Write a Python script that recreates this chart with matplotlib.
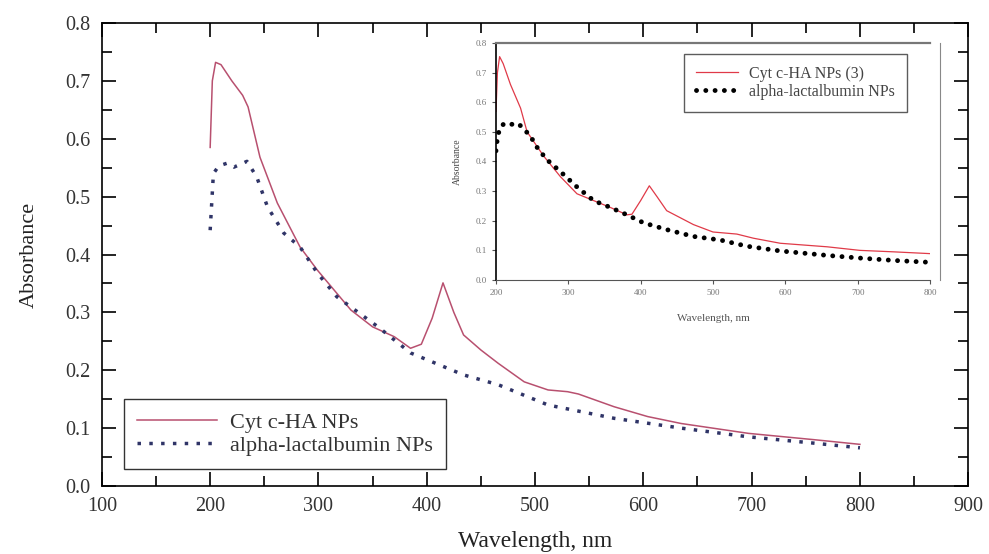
import matplotlib.pyplot as plt
import matplotlib as mpl
from matplotlib.ticker import MultipleLocator

mpl.rcParams['font.family'] = 'Liberation Serif'

# main panel data
cyt_x = [200, 202, 205, 210, 220, 230, 235, 246, 262, 283, 299, 330, 350, 370, 385, 395,
         405, 415, 425, 434, 450, 466, 490, 512, 530, 540, 573, 604, 635, 697, 758, 800]
cyt_y = [0.585, 0.70, 0.732, 0.728, 0.70, 0.675, 0.655, 0.568, 0.489, 0.413, 0.373, 0.304,
         0.275, 0.258, 0.238, 0.245, 0.29, 0.351, 0.30, 0.261, 0.235, 0.212, 0.18, 0.166,
         0.163, 0.159, 0.137, 0.12, 0.108, 0.091, 0.080, 0.072]
alac_x = [200, 203, 208, 216, 222, 234, 243, 253, 268, 283, 299, 317, 355, 385, 434, 466,
          512, 573, 635, 697, 758, 800]
alac_y = [0.442, 0.54, 0.553, 0.558, 0.551, 0.561, 0.534, 0.482, 0.437, 0.413, 0.368, 0.327,
          0.275, 0.23, 0.192, 0.175, 0.140, 0.117, 0.100, 0.085, 0.074, 0.066]

# inset data
in_cyt_x = [200, 202, 205, 210, 220, 234, 243, 266, 289, 312, 335, 358, 381, 388, 400, 412,
            423, 436, 473, 500, 533, 556, 593, 658, 703, 750, 800]
in_cyt_y = [0.569, 0.70, 0.754, 0.73, 0.66, 0.58, 0.50, 0.418, 0.349, 0.291, 0.268, 0.245,
            0.22, 0.222, 0.268, 0.318, 0.28, 0.234, 0.187, 0.162, 0.155, 0.141, 0.124, 0.112,
            0.10, 0.095, 0.089]
in_alac_x = [200, 202, 205, 211, 220, 231, 238, 247, 257, 270, 289, 312, 335, 358, 381, 404,
             436, 473, 510, 547, 593, 658, 703, 750, 797]
in_alac_y = [0.436, 0.48, 0.51, 0.528, 0.525, 0.528, 0.51, 0.488, 0.447, 0.407, 0.366, 0.314,
             0.268, 0.245, 0.22, 0.193, 0.17, 0.147, 0.135, 0.114, 0.098, 0.083, 0.074, 0.066,
             0.060]

fig = plt.figure(figsize=(9.89, 5.54), dpi=100)
ax = fig.add_axes([0.103, 0.1227, 0.876, 0.8358])

ax.plot(cyt_x, cyt_y, color='#b8506f', lw=1.1, label='Cyt c-HA NPs')
ax.plot(alac_x, alac_y, color='#2f3467', lw=2.5, linestyle=(0, (1, 2.4)),
        label='alpha-lactalbumin NPs')

ax.set_xlim(100, 900)
ax.set_ylim(0, 0.8)
ax.xaxis.set_major_locator(MultipleLocator(100))
ax.xaxis.set_minor_locator(MultipleLocator(50))
ax.yaxis.set_major_locator(MultipleLocator(0.1))
ax.yaxis.set_major_formatter(mpl.ticker.FormatStrFormatter('%.1f'))
ax.yaxis.set_minor_locator(MultipleLocator(0.05))
ax.tick_params(which='both', direction='in', top=True, right=True, labelsize=14.5,
               width=1.2, labelcolor='#333333')
ax.tick_params(axis='y', which='major', pad=8)
ax.tick_params(axis='x', which='major', pad=8)
ax.tick_params(which='major', length=10)
ax.tick_params(which='minor', length=7)
for s in ax.spines.values():
    s.set_linewidth(1.2)
ax.set_xlabel('Wavelength, nm', fontsize=17, labelpad=11, color='#222222')
ax.set_ylabel('Absorbance', fontsize=16, labelpad=19, color='#222222')

leg = ax.legend(loc='lower left', bbox_to_anchor=(0.025, 0.037), borderaxespad=0,
                fontsize=16, frameon=True, fancybox=False, edgecolor='black',
                handlelength=3.6, borderpad=0.6, labelspacing=0.1, handletextpad=0.6)
leg.get_frame().set_linewidth(1.0)
for t in leg.get_texts():
    t.set_color('#333333')

# inset
ins = fig.add_axes([0.5015, 0.4946, 0.4388, 0.4278])
ins.plot(in_cyt_x, in_cyt_y, color='#e03a48', lw=0.9, label='Cyt c-HA NPs (3)')
ins.plot(in_alac_x, in_alac_y, color='black', lw=3.5, linestyle=(0, (0.01, 1.9)),
         dash_capstyle='round', label='alpha-lactalbumin NPs')
ins.set_xlim(200, 800)
ins.set_ylim(0, 0.8)
ins.xaxis.set_major_locator(MultipleLocator(100))
ins.yaxis.set_major_locator(MultipleLocator(0.1))
ins.yaxis.set_major_formatter(mpl.ticker.FormatStrFormatter('%.1f'))
ins.tick_params(labelsize=6.5, length=3, colors='#555555', labelcolor='#777777')
ins.spines['top'].set_color('#777777')
ins.spines['top'].set_linewidth(1.6)
ins.spines['right'].set_color('#888888')
ins.spines['right'].set_position(('outward', 7))
ins.spines['left'].set_linewidth(1.2)
ins.spines['bottom'].set_color('#555555')
ins.set_xlabel('Wavelength, nm', fontsize=8, color='#555555', labelpad=12)
ins.set_ylabel('Absorbance', fontsize=7, color='#444444', labelpad=10)
ileg = ins.legend(loc='upper right', bbox_to_anchor=(0.947, 0.955), borderaxespad=0,
                  fontsize=11.5, frameon=True, fancybox=False, edgecolor='#333333',
                  handlelength=2.6, borderpad=0.75, labelspacing=0.15, handletextpad=0.7)
ileg.get_frame().set_linewidth(1.0)
for t in ileg.get_texts():
    t.set_color('#444444')

fig.savefig('out.png', dpi=100)
